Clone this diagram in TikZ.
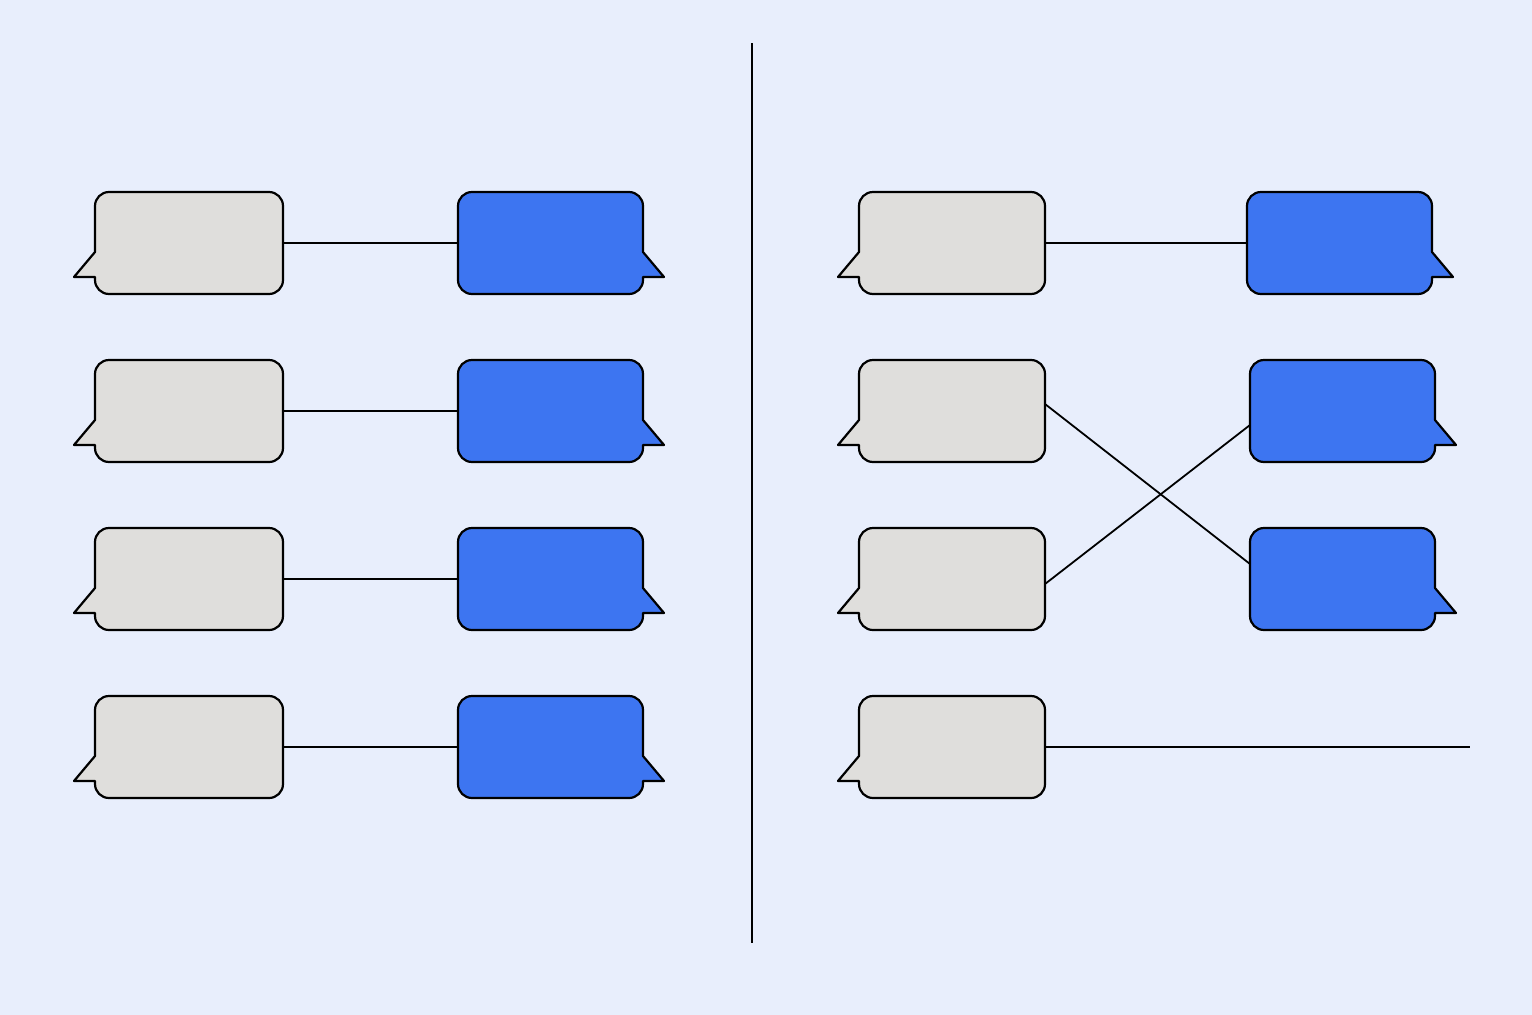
\documentclass[tikz,border=0pt]{standalone}
\usetikzlibrary{calc}
\definecolor{bgc}{HTML}{E8EEFC}
\definecolor{grayc}{HTML}{DFDEDC}
\definecolor{bluec}{HTML}{3D75F1}
\tikzset{
  bubble/.style={draw=black, line width=2.2pt, line join=round},
  link/.style={draw=black, line width=1.8pt},
  body/.style={inner sep=0pt, outer sep=0pt, draw=none},
}
\newcommand\graybub[5]{%
  \node[body, minimum width={#3-#2}, minimum height={#5-#4}] (#1) at ({(#2+#3)/2},{(#4+#5)/2}) {};
  \path[bubble, fill=grayc] (#2+14,#4) -- (#3-14,#4) arc[start angle=270,end angle=360,radius=14]
    -- (#3,#5-14) arc[start angle=0,end angle=90,radius=14]
    -- (#2+14,#5) arc[start angle=90,end angle=180,radius=14]
    -- (#2,#5-17) -- (#2-21,#5-17) -- (#2,#5-42)
    -- (#2,#4+14) arc[start angle=180,end angle=270,radius=14] -- cycle;}
\newcommand\bluebub[5]{%
  \node[body, minimum width={#3-#2}, minimum height={#5-#4}] (#1) at ({(#2+#3)/2},{(#4+#5)/2}) {};
  \path[bubble, fill=bluec] (#2+14,#4) -- (#3-14,#4) arc[start angle=270,end angle=360,radius=14]
    -- (#3,#5-42) -- (#3+21,#5-17) -- (#3,#5-17)
    -- (#3,#5-14) arc[start angle=0,end angle=90,radius=14]
    -- (#2+14,#5) arc[start angle=90,end angle=180,radius=14]
    -- (#2,#4+14) arc[start angle=180,end angle=270,radius=14] -- cycle;}
\begin{document}
\begin{tikzpicture}[x=1pt,y=-1pt]
\useasboundingbox (0,0) rectangle (1532,1015);
\fill[bgc] (0,0) rectangle (1532,1015);
% left panel
\graybub{g1}{95}{283}{192}{294}
\graybub{g2}{95}{283}{360}{462}
\graybub{g3}{95}{283}{528}{630}
\graybub{g4}{95}{283}{696}{798}
\bluebub{b1}{458}{643}{192}{294}
\bluebub{b2}{458}{643}{360}{462}
\bluebub{b3}{458}{643}{528}{630}
\bluebub{b4}{458}{643}{696}{798}
% right panel
\graybub{g5}{859}{1045}{192}{294}
\graybub{g6}{859}{1045}{360}{462}
\graybub{g7}{859}{1045}{528}{630}
\graybub{g8}{859}{1045}{696}{798}
\bluebub{b5}{1247}{1432}{192}{294}
\bluebub{b6}{1250}{1435}{360}{462}
\bluebub{b7}{1250}{1435}{528}{630}
% divider
\coordinate (dtop) at (752,43);
\coordinate (dbot) at (752,943);
\draw[link] (dtop) -- (dbot);
% connectors
\draw[link] (g1.east) -- (b1.west);
\draw[link] (g2.east) -- (b2.west);
\draw[link] (g3.east) -- (b3.west);
\draw[link] (g4.east) -- (b4.west);
\draw[link] (g5.east) -- (b5.west);
\draw[link] ([yshift=7pt]g6.east) -- ([yshift=15pt]b7.west);
\draw[link] ([yshift=-5pt]g7.east) -- ([yshift=-14pt]b6.west);
\coordinate (lineend) at (1470,747);
\draw[link] (g8.east) -- (lineend);
\end{tikzpicture}
\end{document}
